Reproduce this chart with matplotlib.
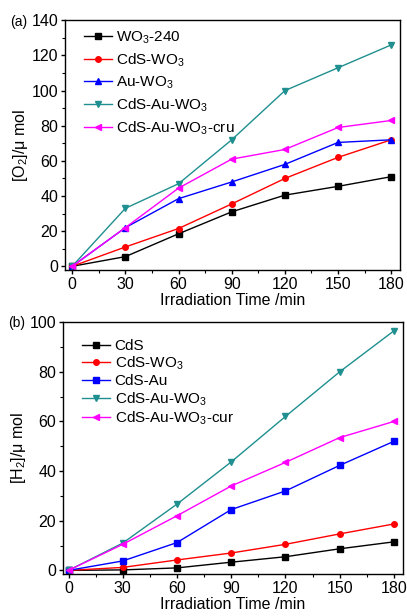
import matplotlib
matplotlib.use("Agg")
import matplotlib.pyplot as plt
from matplotlib.ticker import MultipleLocator

plt.rcParams['font.family'] = ['Liberation Sans', 'DejaVu Sans']
plt.rcParams['mathtext.fontset'] = 'custom'
plt.rcParams['mathtext.rm'] = 'Liberation Sans'

time = [0, 30, 60, 90, 120, 150, 180]

# Panel (a) O2 evolution
o2_labels = ["WO$_3$-240", "CdS-WO$_3$", "Au-WO$_3$", "CdS-Au-WO$_3$", "CdS-Au-WO$_3$-cru"]
o2_wo3_240 = [0, 5.5, 18.5, 31, 40.5, 45.5, 51]
o2_cds_wo3 = [0, 11, 21.5, 35.5, 50, 62, 72]
o2_au_wo3 = [0, 22, 38.5, 48, 58, 70.5, 72]
o2_cds_au_wo3 = [0, 33, 47, 72, 100, 113, 126]
o2_cds_au_wo3_cru = [0, 22, 44.5, 61, 66.5, 79, 83]

# Panel (b) H2 evolution
h2_labels = ["CdS", "CdS-WO$_3$", "CdS-Au", "CdS-Au-WO$_3$", "CdS-Au-WO$_3$-cur"]
h2_cds = [0, 0.2, 1, 3.3, 5.5, 8.7, 11.5]
h2_cds_wo3 = [0, 1.2, 4.2, 7, 10.5, 14.7, 18.7]
h2_cds_au = [0, 3.8, 11.2, 24.5, 32, 42.3, 52]
h2_cds_au_wo3 = [0, 11, 26.7, 43.7, 62, 80, 96.5]
h2_cds_au_wo3_cur = [0, 10.5, 22, 34, 43.5, 53.5, 60]

colors = ["black", "#ff0000", "#0000ff", "#1f8f8f", "#ff00ff"]
markers_a = ["s", "o", "^", "v", "<"]
markers_b = ["s", "o", "s", "v", "<"]

FS = 11.5

fig = plt.figure(figsize=(4.07, 6.16), dpi=100)
ax1 = fig.add_axes([0.160, 0.562, 0.823, 0.405])
ax2 = fig.add_axes([0.155, 0.068, 0.835, 0.409])

def style(ax, ylabel, ymaj, ymin, ylim, xlim):
    ax.set_xlim(*xlim)
    ax.set_ylim(*ylim)
    ax.xaxis.set_major_locator(MultipleLocator(30))
    ax.xaxis.set_minor_locator(MultipleLocator(15))
    ax.yaxis.set_major_locator(MultipleLocator(ymaj))
    ax.yaxis.set_minor_locator(MultipleLocator(ymin))
    ax.tick_params(which='major', direction='out', length=3, width=1, pad=2,
                   labelsize=FS, top=False, right=False)
    ax.tick_params(which='minor', direction='out', length=2, width=0.8, top=False, right=False)
    for s in ax.spines.values():
        s.set_linewidth(1.0)
    ax.set_xlabel("Irradiation Time /min", fontsize=FS, labelpad=1)
    ax.set_ylabel(ylabel, fontsize=FS, labelpad=1)

o2_series = [o2_wo3_240, o2_cds_wo3, o2_au_wo3, o2_cds_au_wo3, o2_cds_au_wo3_cru]
for y, c, m, lab in zip(o2_series, colors, markers_a, o2_labels):
    ax1.plot(time, y, color=c, marker=m, markersize=4, linewidth=1.0, label=lab)
style(ax1, "[O$_2$]/μ mol", 20, 10, (-2, 140), (-4, 185))
ax1.legend(loc='upper left', frameon=False, fontsize=11, handlelength=1.8,
           handletextpad=0.3, labelspacing=0.35, borderaxespad=0.2, bbox_to_anchor=(0.03, 1.0))
fig.text(0.025, 0.965, "(a)", fontsize=10, ha='left', va='center')

h2_series = [h2_cds, h2_cds_wo3, h2_cds_au, h2_cds_au_wo3, h2_cds_au_wo3_cur]
for y, c, m, lab in zip(h2_series, colors, markers_b, h2_labels):
    ax2.plot(time, y, color=c, marker=m, markersize=4, linewidth=1.0, label=lab)
style(ax2, "[H$_2$]/μ mol", 20, 10, (-1.5, 100), (-3, 185))
ax2.legend(loc='upper left', frameon=False, fontsize=11, handlelength=1.8,
           handletextpad=0.3, labelspacing=0.12, borderaxespad=0.2, bbox_to_anchor=(0.03, 0.97))
fig.text(0.02, 0.476, "(b)", fontsize=10, ha='left', va='center')

fig.savefig("out.png", dpi=100)
